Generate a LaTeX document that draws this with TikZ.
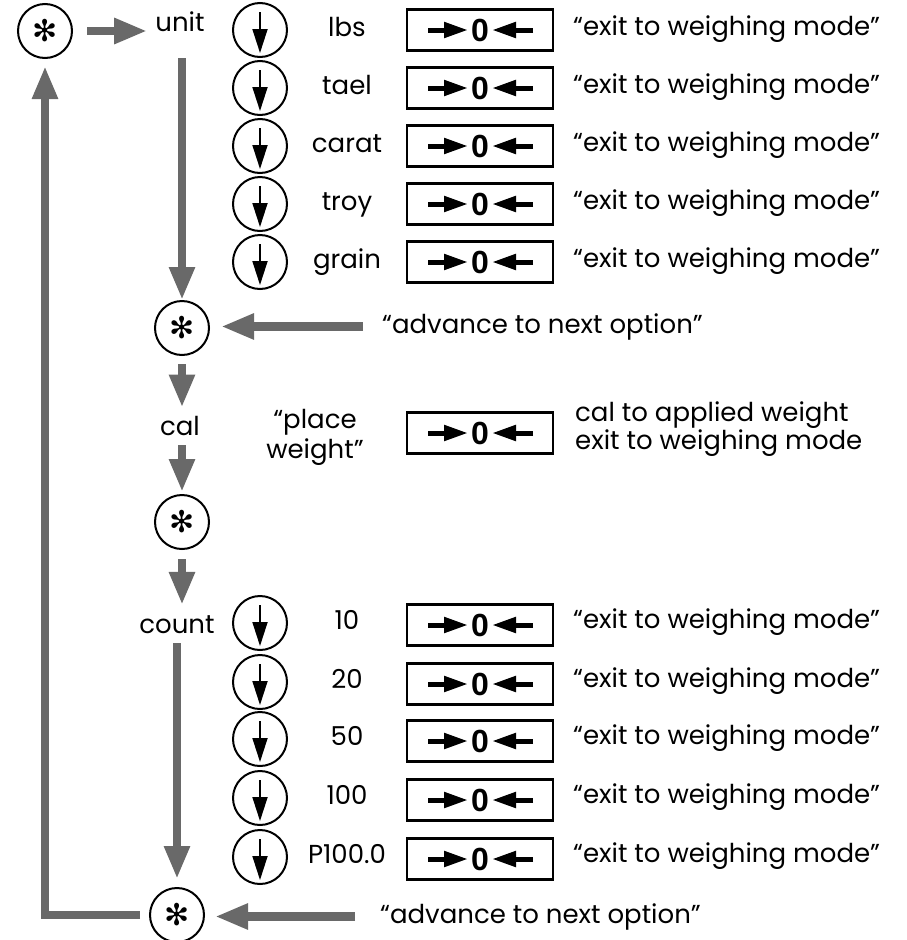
\documentclass[tikz,border=0pt]{standalone}
\usepackage{fontspec}
\setmainfont{Poppins}
\newfontfamily\zerofont{Liberation Sans}
\newfontfamily\symfont{DejaVu Sans}
\usetikzlibrary{arrows.meta}
\definecolor{flowgray}{RGB}{105,105,105}

\begin{document}
\begin{tikzpicture}[x=1pt,y=-1pt,
    flow/.style={draw=flowgray, line width=8.5pt, -{Triangle[length=33pt,width=24pt]}},
    starkey/.style={circle, draw, line width=2pt, minimum size=54pt, inner sep=0pt, font=\symfont\fontsize{30}{30}\selectfont},
    downkey/.style={circle, draw, line width=2pt, minimum size=54pt, inner sep=0pt},
    keyarrow/.style={line width=1.8pt, -{Triangle[length=24pt,width=15pt]}},
    zerobox/.style={draw, line width=2.5pt, minimum width=146pt, minimum height=41pt, inner sep=0pt, font=\zerofont\bfseries\fontsize{32}{32}\selectfont},
    zarrow/.style={line width=5pt, -{Triangle[length=24pt,width=15pt]}},
    word/.style={inner sep=0pt, anchor=base, font=\fontsize{26}{30}\selectfont},
    note/.style={word, anchor=base west}]
    \useasboundingbox (0,0) rectangle (907,940);

    % left column
    \node[starkey] (star1) at (45,31) {✻};
    \node[word] (unit) at (180,31) {unit};
    \node[starkey] (star2) at (182,328) {✻};
    \node[word] (cal) at (180,435) {cal};
    \node[starkey] (star3) at (182,522) {✻};
    \node[word] (count) at (177,633) {count};
    \node[starkey] (star4) at (177,915) {✻};
    \node[note] (adv1) at (382,333) {“advance to next option”};
    \node[note] (adv2) at (380,923) {“advance to next option”};

    % unit options
    \foreach \y/\lab [count=\i] in {30/lbs,88/tael,146/carat,204/troy,262/grain} {
        \node[downkey] (u\i) at (260,\y) {};
        \draw[keyarrow] ([yshift=18pt]u\i.center) -- ([yshift=-23pt]u\i.center);
        \node[word] (ul\i) at (347,\y+6) {\lab};
        \node[zerobox] (ub\i) at (480,\y) {0};
        \draw[zarrow] ([xshift=-52pt]ub\i.center) -- ([xshift=-12pt]ub\i.center);
        \draw[zarrow] ([xshift=53pt]ub\i.center) -- ([xshift=12pt]ub\i.center);
        \node[note] (ue\i) at (573,\y+5) {“exit to weighing mode”};
    }

    % cal
    \node[word, align=center, anchor=center] (place) at (315,437) {“place\\weight”};
    \node[zerobox] (cb) at (480,433) {0};
    \draw[zarrow] ([xshift=-52pt]cb.center) -- ([xshift=-12pt]cb.center);
    \draw[zarrow] ([xshift=53pt]cb.center) -- ([xshift=12pt]cb.center);
    \node[word, anchor=west, align=left, font=\fontsize{26}{25}\selectfont] (calnote) at (575,429) {cal to applied weight\\exit to weighing mode};

    % count options
    \foreach \y/\lab [count=\i] in {623/10,682/20,739/50,798/100,857/P100.0} {
        \node[downkey] (c\i) at (260,\y) {};
        \draw[keyarrow] ([yshift=18pt]c\i.center) -- ([yshift=-23pt]c\i.center);
        \node[word] (cl\i) at (347,\y+6) {\lab};
        \node[zerobox] (cbx\i) at (480,\y+2) {0};
        \draw[zarrow] ([xshift=-52pt]cbx\i.center) -- ([xshift=-12pt]cbx\i.center);
        \draw[zarrow] ([xshift=53pt]cbx\i.center) -- ([xshift=12pt]cbx\i.center);
        \node[note] (ce\i) at (573,\y+5) {“exit to weighing mode”};
    }

    % flow
    \draw[flow, shorten <=14pt, shorten >=8pt] (star1.east) -- (star1.east -| unit.west);
    \draw[flow, shorten <=27pt] (unit.south -| star2.north) -- (star2.north);
    \draw[flow, shorten <=19pt, shorten >=11pt] (adv1.west) -- (adv1.west -| star2.east);
    \draw[flow, shorten <=8pt, shorten >=8pt] (star2.south) -- (star2.south |- cal.north);
    \draw[flow, shorten <=10pt, shorten >=2pt] (cal.south -| star3.north) -- (star3.north);
    \draw[flow, shorten <=9pt, shorten >=10pt] (star3.south) -- (star3.south |- count.north);
    \draw[flow, shorten <=10pt, shorten >=8pt] (count.south -| star4.north) -- (star4.north);
    \draw[flow, shorten <=9pt, shorten >=7pt] (star4.west) -| (star1.south);
    \draw[flow, shorten <=25pt, shorten >=10pt] (adv2.west) -- (adv2.west -| star4.east);
\end{tikzpicture}
\end{document}
